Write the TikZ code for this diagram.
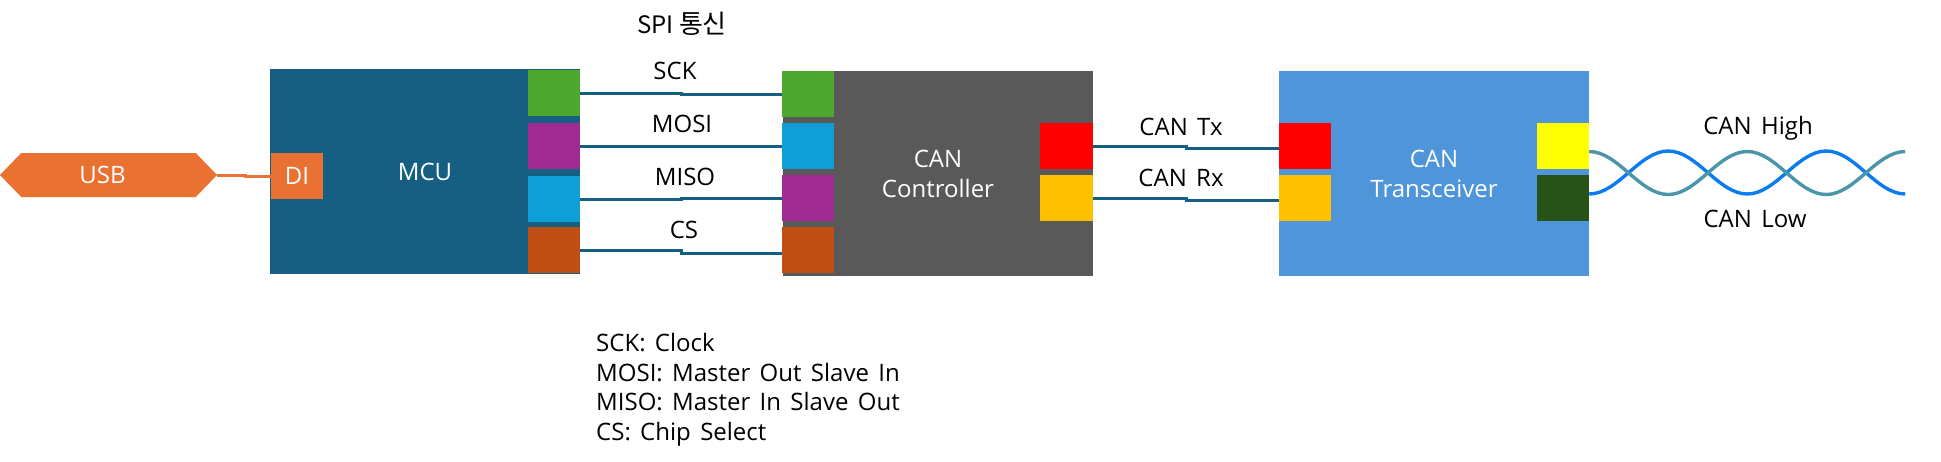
\documentclass[tikz,border=0pt]{standalone}
\usepackage{fontspec}
\setmainfont[WordSpace=1.5]{Open Sans}
\newfontfamily\krfont{Noto Sans CJK KR}
\usetikzlibrary{calc,shapes.symbols}
\definecolor{mcublue}{HTML}{156082}
\definecolor{usborange}{HTML}{E97132}
\definecolor{ctrlgrey}{HTML}{595959}
\definecolor{transblue}{HTML}{4F95D9}
\definecolor{pingreen}{HTML}{4EA72E}
\definecolor{pinviolet}{HTML}{A02B93}
\definecolor{pinblue}{HTML}{0F9ED5}
\definecolor{pinbrown}{HTML}{C04F15}
\definecolor{pinamber}{HTML}{FFC000}
\definecolor{pinyellow}{HTML}{FFFF00}
\definecolor{pinred}{HTML}{FF0000}
\definecolor{pindark}{HTML}{275317}
\definecolor{twistteal}{HTML}{4A95A8}
\definecolor{twistblue}{HTML}{0A7CF0}
\tikzset{
  chip/.style={inner sep=0pt,text=white,align=center,minimum width=310pt,minimum height=205pt,
               font=\fontsize{24}{30}\selectfont},
  port/.style={inner sep=0pt,minimum width=52pt,minimum height=46pt},
  wire/.style={mcublue,line width=3pt},
  usbwire/.style={usborange,line width=3pt},
  twist/.style={line width=3.4pt},
  lab/.style={inner sep=0pt,font=\fontsize{24}{29.6}\selectfont},
}
\begin{document}
\begin{tikzpicture}[x=1pt,y=-1pt]
  \path[use as bounding box] (0,0) rectangle (1941,461);

  \node[chip,fill=mcublue] (MCU) at (425,171.5) {\raisebox{-2pt}{MCU}};
  \node[chip,fill=ctrlgrey] (CTRL) at (938,173.5) {CAN\\Controller};
  \node[chip,fill=transblue] (TRANS) at (1434,173.5) {CAN\\Transceiver};

  \node[shape=signal,signal to=west and east,signal pointer angle=92,fill=usborange,inner sep=0pt,
        minimum width=217pt,minimum height=44pt,text=white,font=\fontsize{24}{30}\selectfont] (USB) at (108.5,175) {\kern-12pt USB};
  \node[port,fill=usborange,text=white,font=\fontsize{24}{30}\selectfont] (DI) at (297,176) {DI};

  % pins on the MCU
  \node[port,fill=pingreen] (MSCK) at (554,93) {};
  \node[port,fill=pinviolet] (MMOSI) at (554,146) {};
  \node[port,fill=pinblue] (MMISO) at (554,199) {};
  \node[port,fill=pinbrown] (MCS) at (554,250) {};

  % pins on the controller
  \node[port,fill=pingreen] (CSCK) at (808,94) {};
  \node[port,fill=pinblue] (CMOSI) at (808,146) {};
  \node[port,fill=pinviolet] (CMISO) at (808,198) {};
  \node[port,fill=pinbrown] (CCS) at (808,250) {};
  \node[port,fill=pinred,minimum width=53pt] (CTX) at (1066.5,146) {};
  \node[port,fill=pinamber,minimum width=53pt] (CRX) at (1066.5,198) {};

  % pins on the transceiver
  \node[port,fill=pinred] (TTX) at (1305,146) {};
  \node[port,fill=pinamber] (TRX) at (1305,198) {};
  \node[port,fill=pinyellow] (THI) at (1563,146) {};
  \node[port,fill=pindark] (TLO) at (1563,198) {};

  \draw[usbwire] (USB.east) -| ($(USB.east)!0.53!(DI.west)$) |- (DI.west);
  \draw[wire] (MSCK.east) -| ($(MSCK.east)!0.5!(CSCK.west)$) |- (CSCK.west);
  \draw[wire] (MMOSI.east) -- (CMOSI.west);
  \draw[wire] (MMISO.east) -| ($(MMISO.east)!0.5!(CMISO.west)$) |- (CMISO.west);
  \draw[wire] (MCS.east) -| ($(MCS.east)!0.5!(CCS.west)$) |- ([yshift=-3pt]CCS.west);
  \draw[wire] (CTX.east) -| ($(CTX.east)!0.5!(TTX.west)$) |- ([yshift=-2pt]TTX.west);
  \draw[wire] (CRX.east) -| ($(CRX.east)!0.5!(TRX.west)$) |- ([yshift=-2pt]TRX.west);

  % twisted pair
  \coordinate (HI) at ($(THI.east)+(0,5.5)$);
  \coordinate (LO) at ($(TLO.east)+(0,-4)$);
  \draw[twist,twistblue] (LO)
    cos ++(39.5,-21.5) sin ++(39.5,-21.5) cos ++(39.5,21.5) sin ++(39.5,21.5)
    cos ++(39.5,-21.5) sin ++(39.5,-21.5) cos ++(39.5,21.5) sin ++(39.5,21.5);
  \draw[twist,twistteal] (HI)
    cos ++(39.5,21.5) sin ++(39.5,21.5) cos ++(39.5,-21.5) sin ++(39.5,-21.5)
    cos ++(39.5,21.5) sin ++(39.5,21.5) cos ++(39.5,-21.5) sin ++(39.5,-21.5);

  \node[lab] (SPI) at (682,24) {\krfont SPI \fontsize{26}{30}\selectfont 통신};
  \node[lab] (LSCK) at (675,71) {SCK};
  \node[lab] (LMOSI) at (682,124) {MOSI};
  \node[lab] (LMISO) at (685,177) {MISO};
  \node[lab] (LCS) at (684,230) {CS};
  \node[lab] (LTX) at (1181,127) {CAN Tx};
  \node[lab] (LRX) at (1181,178) {CAN Rx};
  \node[lab] (LHI) at (1758,128) {CAN High};
  \node[lab] (LLO) at (1755,219) {CAN Low};

  \node[lab,align=left,anchor=north west] (KEY) at (596,333)
    {SCK: Clock\\
     MOSI: Master Out Slave In\\
     MISO: Master In Slave Out\\
     CS: Chip Select};
\end{tikzpicture}
\end{document}
